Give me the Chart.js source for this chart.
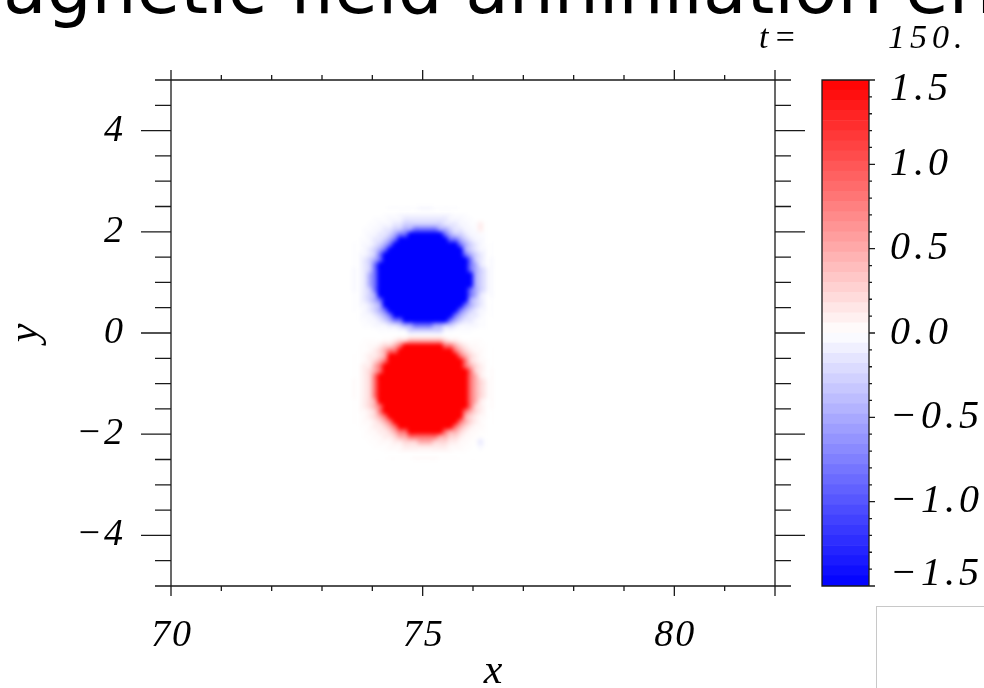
<!DOCTYPE html>
<html>
<head>
<meta charset="utf-8">
<script src="https://cdn.jsdelivr.net/npm/chart.js@4.4.1/dist/chart.umd.min.js"></script>
<style>
    html, body { margin: 0; padding: 0; background: #fff; }
    body { width: 984px; height: 688px; position: relative; overflow: hidden; }
    #field { position: absolute; left: 0; top: 0; }
    #colorbar { position: absolute; left: 790px; top: 0; }
    .side-box { position: absolute; left: 876px; top: 606px; width: 200px; height: 200px; border: 1px solid #c8c8c8; }
</style>
</head>
<body>
<canvas id="field" width="984" height="688"></canvas>
<canvas id="colorbar" width="194" height="688"></canvas>
<div class="side-box"></div>
<script>
// axes
const xRange = [70, 82];
const yRange = [-5, 5];
const xTickLabels = [70, 75, 80];
const yTickLabels = [-4, -2, 0, 2, 4];

// colour scale
const cbRange = [-1.5, 1.5];
const cbTickLabels = [-1.5, -1.0, -0.5, 0.0, 0.5, 1.0, 1.5];
const cbBandCount = 50;

const titleText = 'Magnetic field annihilation error';
const timeText = '150.';

// Bz on a 0.1 x 0.1 grid: columns from x=73.6, rows from y=2.5 downwards.
// Rows are run-length coded ("3b" = "bbb"), letters are looked up in fieldLevels.
const fieldLeft = 73.6;
const fieldTop = 2.5;
const fieldStep = 0.1;
const fieldLevels = {
    '.': 0,
    a: -0.015, b: -0.045, c: -0.14, d: -0.28, e: -0.5, f: -0.85, g: -1.8,
    A: 0.012, B: 0.035, C: 0.11, D: 0.24, E: 0.48, F: 0.85, G: 1.8
};
const fieldRows = [
    '7.6a3b5a7.',
    '6.3a11b3a5.',
    '4.3a3b9c3b2a4.',
    '3.2a3b2c8d3c2b2aC2.',
    '2.2a2b2c2d2e5f2ed2c2baC2.',
    '2.a2b2cde2f7gfe2dc2b2a.',
    '.2ab2cdef10g2fedc2ba.',
    '2a2bcdef13gfedcb2a',
    '2abcdef15gedc2ba',
    'a2bcdf16gfedcba',
    'abcdef17gfdc2b',
    'abcdf18gfec2b',
    '2bcdf18gfedcb',
    '2bcef19gedcb',
    '2bcef19gedcb',
    '2bcef19gedcb',
    '2bcdf18gfedcb',
    'abcde18gfec2b',
    'abcdef17gedcba',
    'a2bcde16gfedcba',
    '2abcdef14gfedc2ba',
    '.a2bcdef12gfed2cb2a',
    '.2a2bcde2f9gfed2cb2a.',
    '2.2a3b2cd2e4f2e2dc4b2a.',
    '5.4a2b7d2b4a4.',
    '11.7A10.',
    '2.4A2BC2D7ED2CB4A2.',
    '.2A2BC2DEF8G2FEDC2B2A.',
    '.2ABCDE2F11GFEDC2B2A',
    '2AB2CDE14GFEDCB2A',
    '2ABCDEF15GFDC2BA',
    'AB2CEF16GFEDCBA',
    'ABCDEF17GFDC2B',
    'ABCDF18GFEC2B',
    '2BCDF18GFEDCB',
    '2BCDF18GFEDCB',
    '2BCDF18GFEDCB',
    '2BCDF18GFEDCB',
    'ABCDE18GFEC2B',
    'ABCDEF17GFDC2B',
    'A2BCDF16GFEDCBA',
    '2ABCDEF15GEDC2BA',
    '2A2BCDEF13GFEDCB2A',
    '.2AB2CDEF11GFEDC2BA.',
    '2.A2B2CDE2F7GF2EDC2B2A.',
    '2.2A2B2CD2E6F2E2DC2B2A2.',
    '3.2A3B2C3D3E3D2C2B2Ac2.',
    '4.3A3B9C3B2A.b2.',
    '6.3A11B3A5.',
    '7.5A5B4A7.'
];

const tickFont = { family: 'Liberation Serif', style: 'italic', size: 38 };
const inkColor = '#1a1a1a';

function expandRow(row) {
    const out = [];
    let count = '';
    for (const ch of row) {
        if (ch >= '0' && ch <= '9') {
            count += ch;
        } else {
            const n = count ? parseInt(count, 10) : 1;
            for (let i = 0; i < n; i++) out.push(fieldLevels[ch] || 0);
            count = '';
        }
    }
    return out;
}

// blue - white - red, saturating at the ends of the colour scale
function fieldColor(v) {
    const t = Math.max(-1, Math.min(1, v / cbRange[1]));
    if (t < 0) {
        const c = Math.round(255 * (1 + t));
        return [c, c, 255];
    }
    const c = Math.round(255 * (1 - t));
    return [255, c, c];
}

const rgb = c => `rgb(${c[0]}, ${c[1]}, ${c[2]})`;
const signed = (v, digits) => (v < 0 ? '\u2212' : '') + Math.abs(v).toFixed(digits);
const near = (a, b) => Math.abs(a - b) < 1e-6;

// one pixel per grid cell plus a transparent rim, stretched onto the plot by the scales
const fieldGrid = fieldRows.map(expandRow);
const fieldCols = Math.max(...fieldGrid.map(r => r.length));
const fieldImage = document.createElement('canvas');
fieldImage.width = fieldCols + 2;
fieldImage.height = fieldGrid.length + 2;
(function paintField() {
    const g = fieldImage.getContext('2d');
    const w = fieldImage.width;
    const img = g.createImageData(w, fieldImage.height);
    fieldGrid.forEach((row, j) => {
        for (let i = 0; i < fieldCols; i++) {
            const c = fieldColor(row[i] || 0);
            const k = ((j + 1) * w + i + 1) * 4;
            img.data[k] = c[0];
            img.data[k + 1] = c[1];
            img.data[k + 2] = c[2];
            img.data[k + 3] = 255;
        }
    });
    g.putImageData(img, 0, 0);
})();

const fieldPlugin = {
    id: 'fieldImage',
    beforeDatasetsDraw(chart) {
        const { ctx, chartArea: a, scales: { x, y } } = chart;
        const x0 = x.getPixelForValue(fieldLeft - fieldStep);
        const x1 = x.getPixelForValue(fieldLeft + (fieldCols + 1) * fieldStep);
        const y0 = y.getPixelForValue(fieldTop + fieldStep);
        const y1 = y.getPixelForValue(fieldTop - (fieldGrid.length + 1) * fieldStep);
        ctx.save();
        ctx.beginPath();
        ctx.rect(a.left, a.top, a.right - a.left, a.bottom - a.top);
        ctx.clip();
        ctx.imageSmoothingEnabled = true;
        ctx.imageSmoothingQuality = 'high';
        ctx.filter = 'blur(1.5px)';
        ctx.drawImage(fieldImage, x0, y0, x1 - x0, y1 - y0);
        ctx.restore();
    }
};

// frame, tick marks on all four sides, title and axis names
const framePlugin = {
    id: 'frame',
    beforeDraw(chart) {
        chart.ctx.letterSpacing = '2px';
    },
    afterDraw(chart) {
        const { ctx, chartArea: a, scales: { x, y } } = chart;
        ctx.save();
        ctx.letterSpacing = '0px';
        ctx.strokeStyle = inkColor;
        ctx.lineWidth = 1.3;
        ctx.beginPath();
        ctx.rect(a.left, a.top, a.right - a.left, a.bottom - a.top);
        for (let v = xRange[0]; v <= xRange[1]; v++) {
            const px = x.getPixelForValue(v);
            const len = (xTickLabels.includes(v) || v === xRange[1]) ? 10 : 5;
            ctx.moveTo(px, a.bottom);
            ctx.lineTo(px, a.bottom + len);
            ctx.moveTo(px, a.top);
            ctx.lineTo(px, a.top - len);
        }
        for (let k = 0; k <= (yRange[1] - yRange[0]) * 2; k++) {
            const v = yRange[0] + k * 0.5;
            const py = y.getPixelForValue(v);
            const len = yTickLabels.some(t => near(t, v)) ? 30 : 16;
            ctx.moveTo(a.left, py);
            ctx.lineTo(a.left - len, py);
            ctx.moveTo(a.right, py);
            ctx.lineTo(a.right + len, py);
        }
        ctx.stroke();

        ctx.fillStyle = '#000';
        ctx.font = '71px "DejaVu Sans"';
        ctx.textBaseline = 'alphabetic';
        ctx.textAlign = 'left';
        ctx.fillText(titleText, 3 - ctx.measureText('M').width, 13);

        ctx.font = 'italic 34px "Liberation Serif"';
        ctx.letterSpacing = '5px';
        ctx.fillText('t=', 759, 48);
        ctx.fillText(timeText, 888, 48);
        ctx.letterSpacing = '0px';

        ctx.font = 'italic 42px "Liberation Serif"';
        ctx.textAlign = 'center';
        ctx.fillText('x', 493, 683);

        ctx.translate(37, 333);
        ctx.rotate(-Math.PI / 2);
        ctx.fillText('y', 0, 0);
        ctx.restore();
    }
};

new Chart(document.getElementById('field'), {
    type: 'scatter',
    data: { datasets: [] },
    options: {
        responsive: false,
        animation: false,
        devicePixelRatio: 1,
        layout: { padding: { left: 0, top: 80, right: 209, bottom: 0 } },
        plugins: { legend: { display: false }, tooltip: { enabled: false } },
        scales: {
            x: {
                type: 'linear',
                position: 'bottom',
                min: xRange[0],
                max: xRange[1],
                grid: { display: false },
                border: { display: false },
                ticks: {
                    stepSize: 1,
                    autoSkip: false,
                    maxRotation: 0,
                    color: '#000',
                    padding: 19,
                    labelOffset: 1,
                    font: tickFont,
                    callback: v => xTickLabels.includes(v) ? String(v) : ''
                },
                afterFit: s => { s.height = 102; }
            },
            y: {
                type: 'linear',
                position: 'left',
                min: yRange[0],
                max: yRange[1],
                grid: { display: false },
                border: { display: false },
                ticks: {
                    stepSize: 0.5,
                    autoSkip: false,
                    color: '#000',
                    padding: 38,
                    font: tickFont,
                    callback: v => yTickLabels.some(t => near(t, v)) ? signed(v, 0) : ''
                },
                afterFit: s => { s.width = 171; }
            }
        }
    },
    plugins: [fieldPlugin, framePlugin]
});

// colour bar: stacked floating bands on the colour-scale axis
const bandSize = (cbRange[1] - cbRange[0]) / cbBandCount;
const cbDatasets = [];
for (let i = 0; i < cbBandCount; i++) {
    const lo = cbRange[0] + i * bandSize;
    const hi = lo + bandSize;
    cbDatasets.push({
        data: [[lo, hi]],
        backgroundColor: rgb(fieldColor((lo + hi) / 2)),
        borderWidth: 0,
        barPercentage: 1,
        categoryPercentage: 1,
        grouped: false
    });
}

const cbFramePlugin = {
    id: 'cbFrame',
    beforeDraw(chart) {
        chart.ctx.letterSpacing = '4px';
    },
    afterDatasetsDraw(chart) {
        const { ctx, chartArea: a, scales: { y } } = chart;
        ctx.save();
        ctx.strokeStyle = inkColor;
        ctx.lineWidth = 1.3;
        ctx.beginPath();
        ctx.rect(a.left, a.top, a.right - a.left, a.bottom - a.top);
        const steps = Math.round((cbRange[1] - cbRange[0]) / 0.1);
        for (let k = 0; k <= steps; k++) {
            const v = cbRange[0] + k * 0.1;
            const py = y.getPixelForValue(v);
            const len = k % 5 === 0 ? 6 : 3;
            ctx.moveTo(a.right, py);
            ctx.lineTo(a.right + len, py);
        }
        ctx.stroke();
        ctx.restore();
    }
};

new Chart(document.getElementById('colorbar'), {
    type: 'bar',
    data: { labels: [''], datasets: cbDatasets },
    options: {
        responsive: false,
        animation: false,
        devicePixelRatio: 1,
        layout: { padding: { left: 32, top: 80, right: 0, bottom: 102 } },
        plugins: { legend: { display: false }, tooltip: { enabled: false } },
        scales: {
            x: { display: false },
            y: {
                position: 'right',
                min: cbRange[0],
                max: cbRange[1],
                grid: { display: false },
                border: { display: false },
                ticks: {
                    stepSize: 0.5,
                    autoSkip: false,
                    color: '#000',
                    padding: 13,
                    // end labels are kept inside the bar's height
                    font: c => {
                        const v = c.tick ? c.tick.value : 0;
                        let lineHeight = 1.2;
                        if (near(v, cbRange[1])) lineHeight = 0.45;
                        if (near(v, cbRange[0])) lineHeight = 0.6;
                        return { family: 'Liberation Serif', style: 'italic', size: 40, lineHeight };
                    },
                    callback: v => {
                        if (!cbTickLabels.some(t => near(t, v))) return '';
                        const s = signed(v, 1);
                        if (near(v, cbRange[1])) return ['', s];
                        if (near(v, cbRange[0])) return [s, ''];
                        return s;
                    }
                },
                afterFit: s => { s.width = 115; }
            }
        }
    },
    plugins: [cbFramePlugin]
});
</script>
</body>
</html>
